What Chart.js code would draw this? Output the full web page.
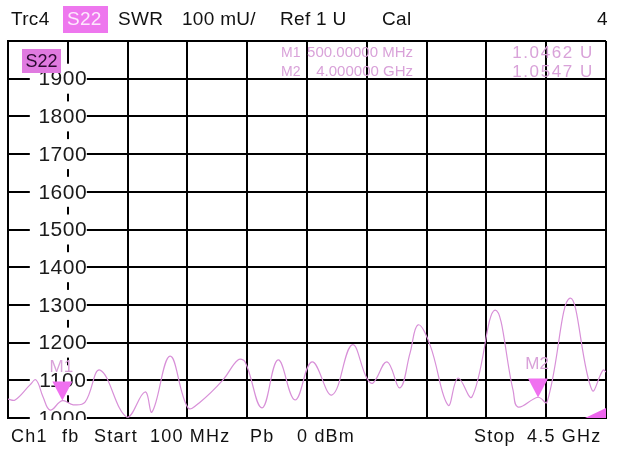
<!DOCTYPE html>
<html>
<head>
<meta charset="utf-8">
<script src="https://cdn.jsdelivr.net/npm/chart.js@4.4.1/dist/chart.umd.min.js"></script>
<style>
  html, body { margin: 0; padding: 0; background: #fff; }
  #wrap { width: 620px; height: 450px; }
</style>
</head>
<body>
<div id="wrap"><canvas id="swrChart" width="620" height="450"></canvas></div>
<script>
// trace S22 SWR (frequency in MHz, value in mU)
const freqMHz = [100, 152, 262, 306, 358, 410, 500, 580, 667, 777, 976, 1108, 1160, 1292, 1424, 1513,
  1682, 1792, 1844, 1969, 2087, 2212, 2337, 2484, 2631, 2741, 2786, 2889, 2984, 3058, 3117, 3205,
  3338, 3411, 3514, 3683, 3816, 3853, 4000, 4066, 4235, 4397, 4478, 4500];
const swrValues = [1050, 1048, 1088, 1101, 1056, 1021, 1046, 1035, 1042, 1127, 1002, 1069, 1016, 1164, 1027, 1042,
  1101, 1154, 1149, 1027, 1154, 1048, 1149, 1061, 1194, 1105, 1093, 1149, 1080, 1172, 1247, 1194,
  1034, 1106, 1056, 1286, 1074, 1029, 1055, 1042, 1318, 1074, 1127, 1122];
const yTickLabels = ['1000', '1100', '1200', '1300', '1400', '1500', '1600', '1700', '1800', '1900'];

const markerNames = ['M1', 'M2'];
const markerFreq = [500, 4000];
const markerValue = [1046.2, 1054.7];
const markerFreqText = ['500.00000 MHz', '4.000000 GHz'];
const markerValueText = ['1.0462 U', '1.0547 U'];

const headerItems = ['Trc4', 'S22', 'SWR', '100 mU/', 'Ref 1 U', 'Cal', '4'];
const footerItems = ['Ch1', 'fb', 'Start', '100 MHz', 'Pb', '0 dBm', 'Stop', '4.5 GHz'];

// left edge of each text item in the strips
const headerX = [11, 67, 118, 182, 280, 382, 597];
const footerX = [11, 62, 94, 150, 250, 297, 474, 527];

const FONT = '"Liberation Sans", Arial, sans-serif';
const TRACE = '#d890d8';
const MAGENTA = '#f070f0';
const MARK_TEXT = '#d9a2d9';

function drawText(ctx, text, x, y, size, color, align, spacing) {
  ctx.save();
  ctx.font = size + 'px ' + FONT;
  ctx.fillStyle = color;
  ctx.textBaseline = 'middle';
  ctx.textAlign = align || 'left';
  ctx.letterSpacing = (spacing || 0) + 'px';
  ctx.fillText(text, x, y);
  ctx.restore();
}

const overlay = {
  id: 'overlay',
  beforeDatasetsDraw(chart) {
    const ctx = chart.ctx;
    const a = chart.chartArea;
    const xs = chart.scales.x, ys = chart.scales.y;
    const gx = xs.getPixelForValue(540);
    ctx.save();
    ctx.beginPath();
    ctx.rect(a.left - 2, a.top, a.right - a.left + 4, a.bottom - a.top + 2);
    ctx.clip();
    yTickLabels.forEach(lab => {
      const py = ys.getPixelForValue(Number(lab));
      ctx.fillStyle = '#fff';
      ctx.fillRect(gx - 38, py - 15, 57, 30);
      drawText(ctx, lab, gx - 5, py + 1, 21, '#1a1a1a', 'center', 0.5);
    });
    ctx.restore();
  },
  afterDatasetsDraw(chart) {
    const ctx = chart.ctx;
    const a = chart.chartArea;
    const xs = chart.scales.x, ys = chart.scales.y;

    // markers
    markerNames.forEach((name, i) => {
      const px = xs.getPixelForValue(markerFreq[i]);
      const py = ys.getPixelForValue(markerValue[i]);
      ctx.fillStyle = MAGENTA;
      ctx.beginPath();
      ctx.moveTo(px - 10, py - 19);
      ctx.lineTo(px + 10, py - 19);
      ctx.lineTo(px, py);
      ctx.closePath();
      ctx.fill();
      drawText(ctx, name, px - 1, py - 33, 17, MARK_TEXT, 'center', 0);
    });

    // marker readout
    markerNames.forEach((name, i) => {
      const ry = a.top + 12 + i * 19;
      drawText(ctx, name, 281, ry, 14, MARK_TEXT, 'left', 0);
      drawText(ctx, markerFreqText[i], 413, ry, 15, MARK_TEXT, 'right', 0);
      drawText(ctx, markerValueText[i], 594, ry, 17, MARK_TEXT, 'right', 1.6);
    });

    // trace tag inside the plot
    ctx.fillStyle = '#e07ae0';
    ctx.fillRect(22, 49, 39, 24);
    drawText(ctx, headerItems[1], 41.5, 62, 18, '#2a0a30', 'center', 0);

    // out-of-range indicator, bottom right
    ctx.fillStyle = '#ee66ee';
    ctx.beginPath();
    ctx.moveTo(a.right - 21, a.bottom);
    ctx.lineTo(a.right, a.bottom);
    ctx.lineTo(a.right, a.bottom - 10);
    ctx.closePath();
    ctx.fill();
  },
  afterDraw(chart) {
    const ctx = chart.ctx;
    ctx.fillStyle = '#ee77ee';
    ctx.fillRect(63, 6, 45, 27);
    headerItems.forEach((t, i) => {
      const col = i === 1 ? '#fde8fd' : '#111';
      drawText(ctx, t, headerX[i], 20, 19, col, 'left', 0.3);
    });
    footerItems.forEach((t, i) => {
      drawText(ctx, t, footerX[i], 437, 18, '#111', 'left', 1.2);
    });
  }
};

const ctx = document.getElementById('swrChart').getContext('2d');
const swrChart = new Chart(ctx, {
  type: 'line',
  data: {
    datasets: [{
      data: freqMHz.map((f, i) => ({ x: f, y: swrValues[i] })),
      borderColor: TRACE,
      borderWidth: 1.2,
      pointRadius: 0,
      tension: 0.4,
      fill: false
    }]
  },
  options: {
    responsive: false,
    animation: false,
    devicePixelRatio: 1,
    layout: { padding: { left: 8, top: 41, right: 14, bottom: 32 } },
    plugins: { legend: { display: false }, tooltip: { enabled: false } },
    scales: {
      x: {
        type: 'linear', min: 100, max: 4500,
        ticks: { display: false, stepSize: 440 },
        grid: { color: '#000', lineWidth: 2, drawTicks: false },
        border: { display: true, color: '#000', width: 2 },
        afterFit: s => { s.height = 0; }
      },
      y: {
        min: 1000, max: 2000,
        ticks: { display: false, stepSize: 100 },
        grid: { color: '#000', lineWidth: 2, drawTicks: false },
        border: { display: true, color: '#000', width: 2 },
        afterFit: s => { s.width = 0; }
      }
    }
  },
  plugins: [overlay]
});
</script>
</body>
</html>
